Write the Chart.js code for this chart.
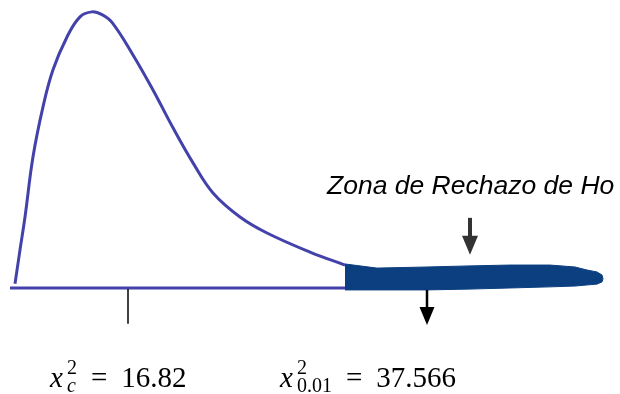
<!DOCTYPE html>
<html>
<head>
<meta charset="utf-8">
<script src="https://cdn.jsdelivr.net/npm/chart.js@4/dist/chart.umd.min.js"></script>
<style>
  body { margin: 0; background: #fff; }
  #wrap { width: 620px; height: 394px; position: relative; }
</style>
</head>
<body>
<div id="wrap"><canvas id="chart"></canvas></div>
<script>
// Curva chi-cuadrado (forma esquemática, altura relativa al pico)
const curveX = [15, 20, 25, 33, 43, 53, 67, 80, 92, 102, 112, 133, 153, 173, 193, 213, 240, 267, 310, 345];
const curveY = [0.015, 0.138, 0.257, 0.475, 0.656, 0.79, 0.909, 0.982, 1.0, 0.99, 0.962, 0.844, 0.717, 0.58, 0.453, 0.344, 0.257, 0.199, 0.13, 0.083];

// Eje horizontal
const axisX = [10, 345];
const axisY = [0, 0];

// Zona de rechazo (mancha rellena)
const zoneX = [345, 377, 427, 470, 510, 550, 575, 587, 597, 602, 603];
const zoneTop = [0.087, 0.072, 0.076, 0.08, 0.083, 0.083, 0.076, 0.065, 0.058, 0.047, 0.033];
const zoneBottom = [-0.007, -0.007, -0.007, -0.004, 0.0, 0.004, 0.007, 0.011, 0.014, 0.022, 0.033];

// Marcas y etiquetas
const calcX = 128;       // posición de x²c
const critX = 427;       // posición de x²0.01
const zoneArrowX = 470;
const calcLabel = { sub: 'c', value: '16.82' };
const critLabel = { sub: '0.01', value: '37.566' };
const zoneTitle = 'Zona de Rechazo de Ho';

const lineColor = '#4242aa';
const zoneColor = '#0b3f80';

function pts(xs, ys) {
    return xs.map((x, i) => ({ x: x, y: ys[i] }));
}

function drawArrow(ctx, x, y1, y2, color, w, head) {
    ctx.save();
    ctx.strokeStyle = color;
    ctx.fillStyle = color;
    ctx.lineWidth = w;
    ctx.beginPath();
    ctx.moveTo(x, y1);
    ctx.lineTo(x, y2 - head * 1.1);
    ctx.stroke();
    ctx.beginPath();
    ctx.moveTo(x - head / 2, y2 - head * 1.2);
    ctx.lineTo(x + head / 2, y2 - head * 1.2);
    ctx.lineTo(x, y2);
    ctx.closePath();
    ctx.fill();
    ctx.restore();
}

function drawMath(ctx, x, baseline, sub, value) {
    const serif = '"Liberation Serif"';
    ctx.save();
    ctx.fillStyle = '#000';
    ctx.textBaseline = 'alphabetic';
    ctx.textAlign = 'left';
    ctx.font = 'italic 29px ' + serif;
    ctx.fillText('x', x, baseline);
    let cx = x + 17;
    ctx.font = '20px ' + serif;
    ctx.fillText('2', cx, baseline - 13);
    ctx.font = (/^[a-z]$/.test(sub) ? 'italic ' : '') + '20px ' + serif;
    ctx.fillText(sub, cx, baseline + 5);
    const w = Math.max(ctx.measureText(sub).width, 10);
    cx += w + 14;
    ctx.font = '29px ' + serif;
    ctx.fillText('=', cx, baseline);
    cx += ctx.measureText('=').width + 14;
    ctx.fillText(value, cx, baseline);
    ctx.restore();
}

const annotations = {
    id: 'annotations',
    afterDatasetsDraw(chart) {
        const ctx = chart.ctx;
        const xs = chart.scales.x;
        const ys = chart.scales.y;
        const y0 = ys.getPixelForValue(0);

        // marca del valor calculado
        ctx.save();
        ctx.strokeStyle = '#000';
        ctx.lineWidth = 1.5;
        ctx.beginPath();
        ctx.moveTo(xs.getPixelForValue(calcX), y0 + 1);
        ctx.lineTo(xs.getPixelForValue(calcX), ys.getPixelForValue(-0.13));
        ctx.stroke();
        ctx.restore();

        // flecha del valor crítico
        drawArrow(ctx, xs.getPixelForValue(critX), ys.getPixelForValue(-0.007),
            ys.getPixelForValue(-0.134), '#000', 2.5, 15);

        // flecha de la zona de rechazo
        drawArrow(ctx, xs.getPixelForValue(zoneArrowX), ys.getPixelForValue(0.254),
            ys.getPixelForValue(0.12), '#333', 4, 16);

        // título de la zona
        ctx.save();
        ctx.fillStyle = '#000';
        ctx.font = 'italic 26.5px "Liberation Sans"';
        ctx.textBaseline = 'alphabetic';
        ctx.fillText(zoneTitle, xs.getPixelForValue(327), ys.getPixelForValue(0.342));
        ctx.restore();

        // etiquetas inferiores
        drawMath(ctx, xs.getPixelForValue(50), ys.getPixelForValue(-0.359), calcLabel.sub, calcLabel.value);
        drawMath(ctx, xs.getPixelForValue(280), ys.getPixelForValue(-0.359), critLabel.sub, critLabel.value);
    }
};

new Chart(document.getElementById('chart'), {
    type: 'line',
    data: {
        datasets: [{
            data: pts(zoneX, zoneBottom),
            borderColor: zoneColor,
            borderWidth: 1,
            pointRadius: 0,
            tension: 0,
            fill: false
        }, {
            data: pts(zoneX, zoneTop),
            borderColor: zoneColor,
            backgroundColor: zoneColor,
            borderWidth: 1,
            pointRadius: 0,
            tension: 0,
            fill: '-1'
        }, {
            data: pts(curveX, curveY),
            borderColor: lineColor,
            borderWidth: 3,
            pointRadius: 0,
            tension: 0.4,
            fill: false
        }, {
            data: pts(axisX, axisY),
            borderColor: lineColor,
            borderWidth: 3,
            pointRadius: 0,
            fill: false
        }]
    },
    options: {
        responsive: true,
        maintainAspectRatio: false,
        animation: false,
        layout: { padding: 0 },
        plugins: {
            legend: { display: false },
            tooltip: { enabled: false }
        },
        scales: {
            x: { type: 'linear', display: false, min: 0, max: 620 },
            y: { display: false, min: -0.384, max: 1.043 }
        }
    },
    plugins: [annotations]
});
</script>
</body>
</html>
